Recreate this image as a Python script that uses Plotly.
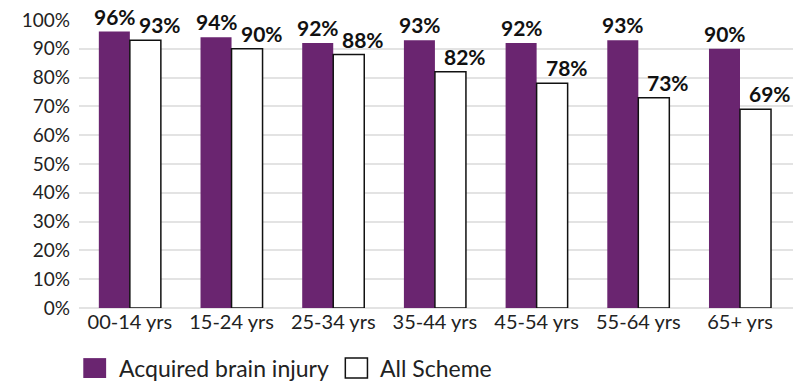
import plotly.graph_objects as go

categories = ["00-14 yrs", "15-24 yrs", "25-34 yrs", "35-44 yrs", "45-54 yrs", "55-64 yrs", "65+ yrs"]
abi_values = [96, 94, 92, 93, 92, 93, 90]
scheme_values = [93, 90, 88, 82, 78, 73, 69]
series_names = ["Acquired brain injury", "All Scheme"]
y_ticks = [0, 10, 20, 30, 40, 50, 60, 70, 80, 90, 100]

PURPLE = "#6a2570"
FONT = "Lato"
INK = "#222222"

fig = go.Figure()
fig.add_trace(go.Bar(
    x=categories, y=abi_values, name=series_names[0],
    marker=dict(color=PURPLE, line=dict(width=0)),
))
fig.add_trace(go.Bar(
    x=categories, y=scheme_values, name=series_names[1],
    marker=dict(color="white", line=dict(color="#111111", width=1.5)),
))

# Value labels above each bar; the All Scheme labels sit nudged to the right
for values, shift in ((abi_values, -15), (scheme_values, 30)):
    for cat, v in zip(categories, values):
        fig.add_annotation(x=cat, y=v, xref="x", yref="y", text=f"<b>{v}%</b>",
                           showarrow=False, xanchor="center", yanchor="bottom",
                           xshift=shift, yshift=1,
                           font=dict(family=FONT, size=21, color="#111111"))

# Legend drawn as large swatches below the axis
swatches = [(PURPLE, 0.006, 0.038, "rgba(0,0,0,0)", 0), ("white", 0.373, 0.404, "#111111", 1.5)]
for (fill, x0, x1, lc, lw), name in zip(swatches, series_names):
    fig.add_shape(type="rect", xref="paper", yref="paper", x0=x0, x1=x1,
                  y0=-0.243, y1=-0.174, fillcolor=fill, line=dict(color=lc, width=lw))
    fig.add_annotation(xref="paper", yref="paper", x=x1 + 0.015, y=-0.208,
                       text=name, showarrow=False, xanchor="left", yanchor="middle",
                       font=dict(family=FONT, size=23, color=INK))

fig.update_layout(
    width=800, height=381,
    margin=dict(l=79, r=7, t=20, b=73),
    paper_bgcolor="white", plot_bgcolor="white",
    barmode="group", bargap=0.39, bargroupgap=0.0,
    showlegend=False,
    font=dict(family=FONT, size=19, color=INK),
    xaxis=dict(showline=False, ticks="", tickfont=dict(size=20, color=INK)),
    yaxis=dict(range=[0, 100], tickvals=y_ticks, ticktext=[f"{v}%" for v in y_ticks],
               showgrid=True, gridcolor="#e3e3e3", gridwidth=1.5,
               zeroline=True, zerolinecolor="#e3e3e3", zerolinewidth=1.5,
               tickfont=dict(size=19, color=INK), ticklabelstandoff=8),
)

fig.write_html("out.html")
